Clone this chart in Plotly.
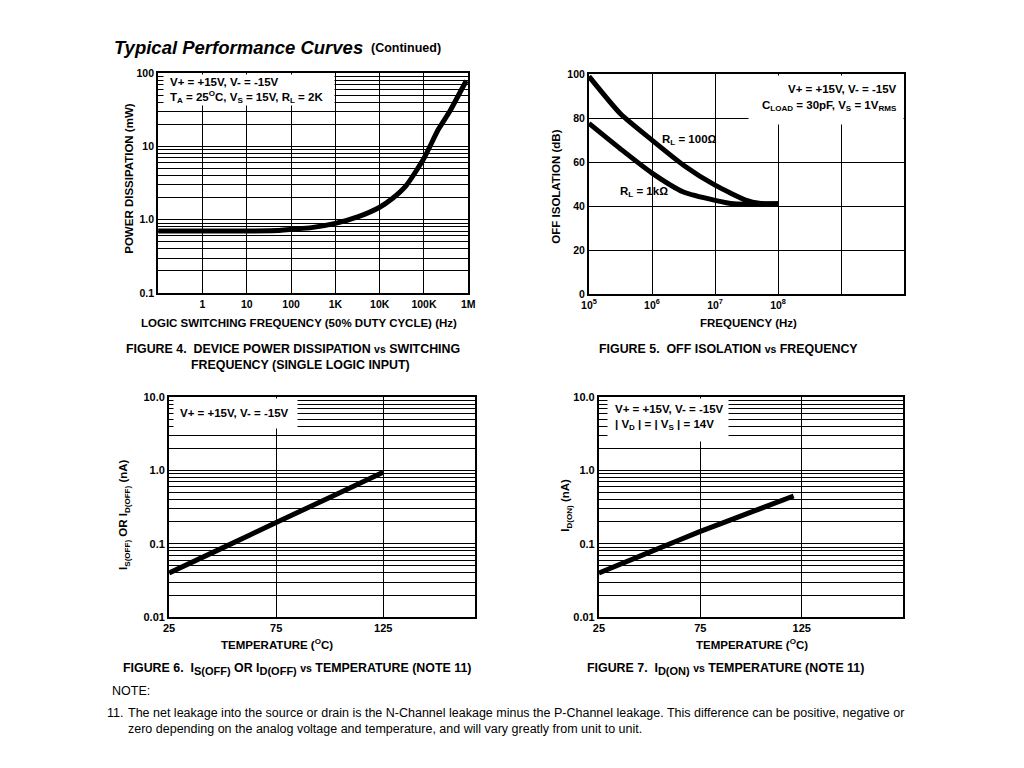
import plotly.graph_objects as go

W, H = 1024, 768
FONT = "Liberation Sans, Arial, Helvetica, sans-serif"

# correction for the way the page is photographed (measured on earlier renders)
SX, OX = 0.987, 14.5
SY, OY = 0.981, 14.0


def px(x):
    return ((x - OX) / SX) / W


def py(y):
    return 1 - ((y - OY) / SY) / H


# ---------------- data ----------------
# Figure 4: device power dissipation vs switching frequency
f4_freq = [0.1, 1, 10, 50, 100, 290, 1e3, 3.3e3, 1e4, 1.9e4, 4e4, 1e5, 2.1e5, 3.8e5, 6e5, 9e5]
f4_power = [0.70, 0.70, 0.70, 0.71, 0.74, 0.78, 0.89, 1.10, 1.48, 1.93, 2.95, 6.9, 17, 30, 50, 79]
f4_xticks = [1, 10, 100, 1e3, 1e4, 1e5, 1e6]
f4_xlabels = ["1", "10", "100", "1K", "10K", "100K", "1M"]
f4_yticks = [0.1, 1, 10, 100]
f4_ylabels = ["0.1", "1.0", "10", "100"]

# Figure 5: off isolation vs frequency
f5_freq_100 = [1e5, 3.16e5, 1e6, 3.16e6, 1e7, 3.16e7, 5e7, 1e8]
f5_iso_100 = [99, 82, 70, 58.6, 49.5, 42.6, 41.3, 41.0]
f5_freq_1k = [1e5, 3.16e5, 1e6, 3.16e6, 1e7, 2e7, 1e8]
f5_iso_1k = [77.6, 66, 55, 46.4, 42.6, 41.0, 41.0]
f5_xticks = [1e5, 1e6, 1e7, 1e8, 1e9]
f5_xlabels = ["10<sup>5</sup>", "10<sup>6</sup>", "10<sup>7</sup>", "10<sup>8</sup>", ""]
f5_yticks = [0, 20, 40, 60, 80, 100]

# Figure 6: IS(OFF) or ID(OFF) vs temperature
f6_temp = [25, 50, 75, 100, 125]
f6_leak = [0.04, 0.088, 0.195, 0.43, 0.95]

# Figure 7: ID(ON) vs temperature
f7_temp = [25, 50, 75, 100, 121]
f7_leak = [0.04, 0.077, 0.148, 0.27, 0.45]

temp_ticks = [25, 75, 125]
leak_yticks = [0.01, 0.1, 1, 10]
leak_ylabels = ["0.01", "0.1", "1.0", "10.0"]


def minor_log(lo_exp, hi_exp):
    return [m * 10 ** e for e in range(lo_exp, hi_exp) for m in range(2, 10)]


# ---------------- figure ----------------
fig = go.Figure()
line = dict(color="black", width=5, shape="spline", smoothing=0.6)

fig.add_trace(go.Scatter(x=f4_freq, y=f4_power, mode="lines", line=line, xaxis="x", yaxis="y",
                         hoverinfo="skip"))
fig.add_trace(go.Scatter(x=f5_freq_100, y=f5_iso_100, mode="lines", line=line, xaxis="x2", yaxis="y2",
                         hoverinfo="skip"))
fig.add_trace(go.Scatter(x=f5_freq_1k, y=f5_iso_1k, mode="lines", line=line, xaxis="x2", yaxis="y2",
                         hoverinfo="skip"))
fig.add_trace(go.Scatter(x=f6_temp, y=f6_leak, mode="lines", line=line, xaxis="x3", yaxis="y3",
                         hoverinfo="skip"))
fig.add_trace(go.Scatter(x=f7_temp, y=f7_leak, mode="lines", line=line, xaxis="x4", yaxis="y4",
                         hoverinfo="skip"))


def tf(size):
    return dict(family=FONT, size=size, color="black", weight="bold")


common = dict(showline=True, mirror=True, linecolor="black", linewidth=2,
              showgrid=True, gridcolor="black", gridwidth=1.4, zeroline=False,
              ticks="", fixedrange=True)
minor_grid = dict(showgrid=True, gridcolor="black", gridwidth=1.3, ticks="")

layout = dict(
    width=W, height=H, margin=dict(l=0, r=0, t=0, b=0),
    paper_bgcolor="white", plot_bgcolor="white", showlegend=False,
    font=dict(family=FONT, color="black"),
    xaxis=dict(common, type="log", range=[-1, 6], domain=[px(157), px(468)], anchor="y",
               tickmode="array", tickvals=f4_xticks, ticktext=f4_xlabels, tickfont=tf(10.5)),
    yaxis=dict(common, type="log", range=[-1, 2], domain=[py(292), py(73)], anchor="x",
               tickmode="array", tickvals=f4_yticks, ticktext=f4_ylabels, tickfont=tf(10.5),
               minor=dict(minor_grid, tickvals=minor_log(-1, 2))),
    xaxis2=dict(common, type="log", range=[5, 10], domain=[px(589), px(905)], anchor="y2",
                tickmode="array", tickvals=f5_xticks, ticktext=f5_xlabels, tickfont=tf(10.5)),
    yaxis2=dict(common, range=[0, 100], domain=[py(293), py(74)], anchor="x2",
                tickmode="array", tickvals=f5_yticks, tickfont=tf(10.5)),
    xaxis3=dict(common, range=[25, 168], domain=[px(168), px(475)], anchor="y3",
                tickmode="array", tickvals=temp_ticks, tickfont=tf(11)),
    yaxis3=dict(common, type="log", range=[-2, 1], domain=[py(615), py(396)], anchor="x3",
                tickmode="array", tickvals=leak_yticks, ticktext=leak_ylabels, tickfont=tf(11),
                minor=dict(minor_grid, tickvals=minor_log(-2, 1))),
    xaxis4=dict(common, range=[25, 175], domain=[px(599), px(904)], anchor="y4",
                tickmode="array", tickvals=temp_ticks, tickfont=tf(11)),
    yaxis4=dict(common, type="log", range=[-2, 1], domain=[py(615), py(396)], anchor="x4",
                tickmode="array", tickvals=leak_yticks, ticktext=leak_ylabels, tickfont=tf(11),
                minor=dict(minor_grid, tickvals=minor_log(-2, 1))),
)
fig.update_layout(**layout)

ann = []


def text(x, y, s, size=11.5, weight="bold", xanchor="center", yanchor="middle", angle=0, style="normal"):
    ann.append(dict(x=px(x), y=py(y), xref="paper", yref="paper", text=s, showarrow=False,
                    xanchor=xanchor, yanchor=yanchor, textangle=angle, borderpad=0,
                    font=dict(family=FONT, size=size, color="black", weight=weight, style=style)))


def white_box(x0, y0, x1, y1):
    ann.append(dict(x=px(x0), y=py(y0), xref="paper", yref="paper", text=" ", showarrow=False,
                    xanchor="left", yanchor="top", width=(x1 - x0) / SX, height=(y1 - y0) / SY,
                    bgcolor="white", borderpad=0, font=dict(size=6)))


# page title
text(112, 47, "Typical Performance Curves", size=18.5, xanchor="left", style="italic")
text(369, 48, "(Continued)", size=12.5, xanchor="left")

# condition boxes
BOX = 11.5
white_box(162, 74, 330, 103)
text(168, 81.5, "V+ = +15V, V- = -15V", size=BOX, xanchor="left")
text(168, 97, "T<sub>A</sub> = 25<sup>O</sup>C, V<sub>S</sub> = 15V, R<sub>L</sub> = 2K", size=BOX, xanchor="left")

white_box(748, 75, 900, 122)
text(899, 89, "V+ = +15V, V- = -15V", size=BOX, xanchor="right")
text(899, 106, "C<sub>LOAD</sub> = 30pF, V<sub>S</sub> = 1V<sub>RMS</sub>", size=BOX, xanchor="right")

white_box(172, 397, 293, 425)
text(178, 412, "V+ = +15V, V- = -15V", size=BOX, xanchor="left")

white_box(607, 397, 725, 438)
text(614, 408, "V+ = +15V, V- = -15V", size=BOX, xanchor="left")
text(614, 424, "| V<sub>D</sub> | = | V<sub>S</sub> | = 14V", size=BOX, xanchor="left")

# curve labels in figure 5
ann.append(dict(x=6.59, y=70, xref="x2", yref="y2", text="R<sub>L</sub> = 100\u2126", showarrow=False,
                font=dict(family=FONT, size=11.5, color="black", weight="bold")))
ann.append(dict(x=5.88, y=46.4, xref="x2", yref="y2", text="R<sub>L</sub> = 1k\u2126", showarrow=False,
                font=dict(family=FONT, size=11.5, color="black", weight="bold")))

# axis titles
text(298, 322, "LOGIC SWITCHING FREQUENCY (50% DUTY CYCLE) (Hz)")
text(127, 178, "POWER DISSIPATION (mW)", angle=-90)
text(749, 322, "FREQUENCY (Hz)")
text(556, 186, "OFF ISOLATION (dB)", angle=-90)
text(276, 642, "TEMPERATURE (<sup>O</sup>C)")
text(123, 513, "I<sub>S(OFF)</sub> OR I<sub>D(OFF)</sub> (nA)", angle=-90)
text(752, 642, "TEMPERATURE (<sup>O</sup>C)")
text(566, 504, "I<sub>D(ON)</sub> (nA)", angle=-90)

# figure captions
cap = dict(size=12.4, weight="bold", xanchor="left")
vs = "<span style='font-size:10.5px'>vs</span>"


def sub(s):
    return "<sub><span style='font-size:11px'>" + s + "</span></sub>"


text(124, 348, "FIGURE 4.&nbsp;&nbsp;DEVICE POWER DISSIPATION " + vs + " SWITCHING", **cap)
text(189, 364, "FREQUENCY (SINGLE LOGIC INPUT)", **cap)
text(598, 348, "FIGURE 5.&nbsp;&nbsp;OFF ISOLATION " + vs + " FREQUENCY", **cap)
text(121, 667, "FIGURE 6.&nbsp;&nbsp;I" + sub("S(OFF)") + " OR I" + sub("D(OFF)") + " " + vs
     + " TEMPERATURE (NOTE 11)", **cap)
text(586, 667, "FIGURE 7.&nbsp;&nbsp;I" + sub("D(ON)") + " " + vs + " TEMPERATURE (NOTE 11)", **cap)

# note
note = dict(size=12.5, weight="normal")
text(110, 689, "NOTE:", xanchor="left", **note)
text(123, 711, "11.", xanchor="right", **note)
text(126, 711, "The net leakage into the source or drain is the N-Channel leakage minus the P-Channel leakage. "
               "This difference can be positive, negative or", xanchor="left", **note)
text(126, 727, "zero depending on the analog voltage and temperature, and will vary greatly from unit to unit.",
     xanchor="left", **note)

fig.update_layout(annotations=ann)
fig.write_html("out.html")
